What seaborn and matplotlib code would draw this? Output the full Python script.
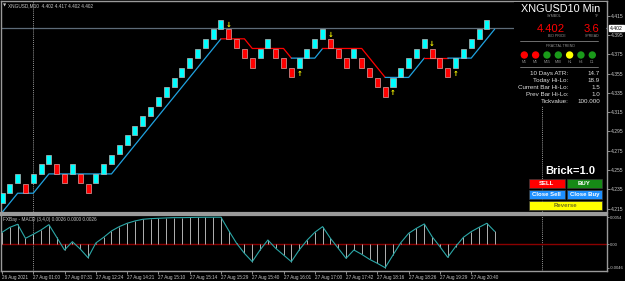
import numpy as np
import pandas as pd
import seaborn as sns
import matplotlib.pyplot as plt
from matplotlib.patches import Rectangle, Circle

# ---- data ----
# renko bricks: low price of each brick and its direction (u = up/cyan, d = down/red)
brick_low = [4.221, 4.231, 4.241, 4.231, 4.241, 4.251, 4.261, 4.251, 4.241, 4.251,
             4.241, 4.231, 4.241, 4.251, 4.261, 4.271, 4.281, 4.291, 4.301, 4.311,
             4.321, 4.331, 4.341, 4.351, 4.361, 4.371, 4.381, 4.391, 4.401, 4.391,
             4.381, 4.371, 4.361, 4.371, 4.381, 4.371, 4.361, 4.351, 4.361, 4.371,
             4.381, 4.391, 4.381, 4.371, 4.361, 4.371, 4.361, 4.351, 4.341, 4.331,
             4.341, 4.351, 4.361, 4.371, 4.381, 4.371, 4.361, 4.351, 4.361, 4.371,
             4.381, 4.391, 4.401]
brick_dir = list("uuuduuuddudd" "uuuuuuuuuuuuuuuuu" "dddd" "uu" "ddd" "uuuu"
                 "ddd" "u" "dddd" "uuuuu" "ddd" "uuuuu")
brick_size = 0.01

# trailing line (one point per bar, incl. the forming bar) and its trend per segment
trail = [4.211, 4.221, 4.231, 4.231, 4.231, 4.241, 4.251, 4.251, 4.251, 4.251,
         4.251, 4.251, 4.251, 4.251, 4.251, 4.261, 4.271, 4.281, 4.291, 4.301,
         4.311, 4.321, 4.331, 4.341, 4.351, 4.361, 4.371, 4.381, 4.391, 4.391,
         4.391, 4.391, 4.381, 4.381, 4.381, 4.381, 4.381, 4.371, 4.371, 4.371,
         4.371, 4.381, 4.381, 4.381, 4.381, 4.381, 4.381, 4.371, 4.361, 4.351,
         4.351, 4.351, 4.351, 4.361, 4.371, 4.371, 4.371, 4.371, 4.371, 4.371,
         4.371, 4.381, 4.391, 4.401]
trail_dir = list("uuuuuuuuuuuuuuuuuuuuuuuuuuuu" "ddddddddd" "uuuu" "dddddddd"
                 "uuuuu" "ddd" "uuuuuuu")

# fractal arrows (bar numbers)
fractal_down = [30, 43, 56]
fractal_up = [39, 51, 59]

# MACD (3,4,0) histogram values
macd = [0.00241, 0.00340, 0.00400, 0.00122, 0.00202, 0.00288, 0.00393, 0.00142, -0.00109, 0.00056,
        -0.00089, -0.00261, 0.00030, 0.00142, 0.00268, 0.00354, 0.00420, 0.00466, 0.00499, 0.00512,
        0.00519, 0.00526, 0.00532, 0.00532, 0.00535, 0.00538, 0.00540, 0.00540, 0.00540, 0.00274,
        0.00023, -0.00175, -0.00340, -0.00109, 0.00089, -0.00076, -0.00208, -0.00340, -0.00109, 0.00083,
        0.00241, 0.00354, 0.00122, -0.00076, -0.00274, -0.00109, -0.00195, -0.00294, -0.00373, -0.00460,
        -0.00208, 0.00036, 0.00221, 0.00321, 0.00407, 0.00155, -0.00043, -0.00254, -0.00043, 0.00142,
        0.00254, 0.00340, 0.00420, 0.00260]

price_ticks = [4.215, 4.235, 4.255, 4.275, 4.295, 4.315, 4.335, 4.355, 4.375, 4.395, 4.415]
bid = 4.402
time_ticks = [1, 5, 9, 13, 17, 21, 25, 29, 33, 37, 41, 45, 49, 53, 57, 61]
time_labels = ["26 Aug 2021", "27 Aug 01:00", "27 Aug 07:31", "27 Aug 12:24",
               "27 Aug 14:21", "27 Aug 15:10", "27 Aug 15:14", "27 Aug 15:29",
               "27 Aug 15:40", "27 Aug 16:01", "27 Aug 17:00", "27 Aug 17:42",
               "27 Aug 18:16", "27 Aug 18:26", "27 Aug 19:29", "27 Aug 20:40"]
day_separators = [5, 70]

tf_names = ["M1", "M5", "M15", "M30", "H1", "H4", "D1"]
tf_colors = ["#ff0000", "#ff0000", "#1a9a1a", "#1a9a1a", "#ffff00", "#1a9a1a", "#1a9a1a"]
stat_names = ["10 Days ATR:", "Today Hi-Lo:", "Current Bar Hi-Lo:", "Prev Bar Hi-Lo:", "Tickvalue:"]
stat_values = ["14.7", "18.9", "1.5", "1.0", "100.000"]

# ---- style ----
sns.set_style("dark", {"axes.facecolor": "black", "figure.facecolor": "black"})
plt.rcParams["font.family"] = ["Liberation Sans", "DejaVu Sans"]

W, H = 625, 281
fig = plt.figure(figsize=(W / 100, H / 100), dpi=100, facecolor="black")
tr = fig.dpi_scale_trans


def px(x, y):
    return x / 100, (H - y) / 100


x0, step = 2.0, 7.82
xmin = 1 - (x0 - 1) / step
xmax = 1 + (607 - x0) / step

ax = fig.add_axes([1 / W, 1 - 213 / H, 606 / W, 212 / H])
ax2 = fig.add_axes([1 / W, 1 - 270.5 / H, 606 / W, 55.5 / H])
txt = "#c8c8c8"
for a in (ax, ax2):
    a.set_facecolor("black")
    a.set_xlim(xmin, xmax)
    a.grid(False)
    for s in a.spines.values():
        s.set_color("#9a9a9a")
        s.set_linewidth(1.0)
ax.spines["bottom"].set_linewidth(1.6)
ax2.spines["top"].set_linewidth(1.6)

# ---- main renko panel ----
n = len(brick_low)
bars = np.arange(1, n + 1)
up_col, dn_col = "#00ffff", "#ff0000"
cols = [up_col if d == "u" else dn_col for d in brick_dir]
edges = ["#b8b8b8" if d == "u" else "#e0a0a0" for d in brick_dir]
ax.bar(bars, brick_size * 0.97, bottom=np.array(brick_low) + 0.00015, width=0.64,
       color=cols, edgecolor=edges, linewidth=0.5, zorder=3)

ax.axhline(bid, color="#5d6b78", lw=0.9, zorder=1)
for d in day_separators:
    for a in (ax, ax2):
        a.axvline(d, color="#c0c0c0", lw=0.6, ls=(0, (1, 1.3)), zorder=1)

# trailing line drawn as runs of same trend
tpos = np.arange(1, len(trail) + 1)
start = 0
for i in range(1, len(trail)):
    if i == len(trail) - 1 or trail_dir[i] != trail_dir[start]:
        end = i
        seg = pd.DataFrame({"x": tpos[start:end + 1], "y": trail[start:end + 1]})
        sns.lineplot(data=seg, x="x", y="y", ax=ax, lw=0.9, zorder=2,
                     color="#1fa2e0" if trail_dir[start] == "u" else "#ff0000")
        start = i

for b in fractal_down:
    ax.text(b, brick_low[b - 1] + brick_size + 0.0045, "↓", color="#ffff00",
            fontsize=5, ha="center", va="center", fontweight="bold", family="DejaVu Sans", zorder=4)
for b in fractal_up:
    ax.text(b, brick_low[b - 1] - 0.0065, "↑", color="#ffff00",
            fontsize=5, ha="center", va="center", fontweight="bold", family="DejaVu Sans", zorder=4)

ax.set_ylim(4.2105, 4.4302)
ax.yaxis.tick_right()
ax.set_yticks(price_ticks)
ax.set_yticklabels([f"{p:.3f}" for p in price_ticks])
ax.tick_params(axis="y", colors=txt, labelsize=3.6, length=2, pad=1, width=0.5)
ax.tick_params(axis="x", bottom=False, labelbottom=False)
ax.set_xlabel("")
ax.set_ylabel("")
ax.text(1 + 3 / 606, bid, f"{bid:.3f}", transform=ax.get_yaxis_transform(),
        fontsize=3.6, color="black", va="center", ha="left",
        bbox=dict(boxstyle="square,pad=0.15", fc="white", ec="white"))

# ---- MACD panel ----
mpos = np.arange(1, len(macd) + 1)
ax2.axhline(0, color="#8b0000", lw=1.0, zorder=1)
ax2.vlines(mpos, 0, macd, colors="#d0d0d0", lw=0.6, zorder=2)
sns.lineplot(x=mpos, y=macd, ax=ax2, color="#2ba7a7", lw=0.8, zorder=3)
ax2.set_ylim(-0.00515, 0.00584)
ax2.yaxis.tick_right()
ax2.set_yticks([0.0054, 0.0, -0.0046])
ax2.set_yticklabels(["0.0054", "0.00", "-0.0046"])
ax2.tick_params(axis="y", colors=txt, labelsize=3.0, length=1.5, pad=0.6, width=0.5)
ax2.set_xticks(time_ticks)
ax2.set_xticklabels(time_labels)
ax2.tick_params(axis="x", colors=txt, labelsize=3.3, length=2, pad=1, width=0.5, bottom=True)
for lab in ax2.get_xticklabels():
    lab.set_ha("left")
ax2.set_xlabel("")
ax2.set_ylabel("")

# ---- header texts ----
fig.text(*px(3, 5.5), "▼", transform=tr, color=txt, fontsize=3, va="center", family="DejaVu Sans")
fig.text(*px(8, 5.5), "XNGUSD,M10  4.402 4.417 4.402 4.402", transform=tr, color=txt,
         fontsize=3.4, va="center")
fig.text(*px(3, 219.5), "FXBay - MACD (3,4,0) 0.0026 0.0000 0.0026", transform=tr, color=txt,
         fontsize=3.4, va="center")

# ---- info panel ----
fig.patches.append(Rectangle(px(514, 106), 92 / 100, 104 / 100, transform=tr,
                             fc="black", ec="none", zorder=4))
fig.text(*px(560.5, 11.7), "XNGUSD10 Min", transform=tr, color="white", fontsize=7.8,
         ha="center", va="baseline", zorder=5)
fig.text(*px(554, 15.7), "SYMBOL", transform=tr, color="#909090", fontsize=2.6, ha="center", va="center", zorder=5)
fig.text(*px(597.5, 15.7), "TF", transform=tr, color="#909090", fontsize=2.6, ha="center", va="center", zorder=5)
fig.text(*px(551, 31.7), "4.402", transform=tr, color="#ff0000", fontsize=8.1, ha="center", va="baseline", zorder=5)
fig.text(*px(591, 31.7), "3.6", transform=tr, color="#ff0000", fontsize=8.1, ha="center", va="baseline", zorder=5)
fig.text(*px(557, 36), "BID PRICE", transform=tr, color="#909090", fontsize=2.6, ha="center", va="center", zorder=5)
fig.text(*px(592, 36), "SPREAD", transform=tr, color="#909090", fontsize=2.6, ha="center", va="center", zorder=5)
fig.lines.append(plt.Line2D([520 / 100, 598 / 100], [(H - 41.3) / 100] * 2, transform=tr,
                            color="#808080", lw=0.6, zorder=5))
fig.text(*px(560, 45.7), "FRACTAL TREND", transform=tr, color="#909090", fontsize=2.6,
         ha="center", va="center", zorder=5)
for k, (name, c) in enumerate(zip(tf_names, tf_colors)):
    cx = 524.3 + k * 11.33
    fig.patches.append(Circle(px(cx, 55), 3.7 / 100, transform=tr, fc=c, ec="none", zorder=5))
    fig.text(*px(cx, 62.3), name, transform=tr, color="#909090", fontsize=2.6,
             ha="center", va="center", zorder=5)
fig.lines.append(plt.Line2D([520 / 100, 598 / 100], [(H - 66.7) / 100] * 2, transform=tr,
                            color="#808080", lw=0.6, zorder=5))
for k, (name, val) in enumerate(zip(stat_names, stat_values)):
    yy = 73.3 + k * 7.1
    fig.text(*px(568.3, yy), name, transform=tr, color="#e0e0e0", fontsize=4.5,
             ha="right", va="center", zorder=5)
    fig.text(*px(600, yy), val, transform=tr, color="#e0e0e0", fontsize=4.5,
             ha="right", va="center", zorder=5)

fig.text(*px(570, 171), "Brick=1.0", transform=tr, color="white", fontsize=8,
         fontweight="bold", ha="center", va="center", zorder=5)
buttons = [("SELL", 529, 179, 35.5, "#ff0000", "white"),
           ("BUY", 566.5, 179, 35.5, "#168a16", "white"),
           ("Close Sell", 529, 190, 35.5, "#1e90ff", "white"),
           ("Close Buy", 566.5, 190, 35.5, "#1e90ff", "white"),
           ("Reverse", 529, 201, 73, "#ffff00", "#6e6e1e")]
for label, bx, by, bw, fc, tc in buttons:
    fig.patches.append(Rectangle(px(bx, by + 9), bw / 100, 9 / 100, transform=tr,
                                 fc=fc, ec="#3a3a3a", lw=0.5, zorder=5))
    fig.text(*px(bx + bw / 2, by + 4.6), label, transform=tr, color=tc, fontsize=4.3,
             fontweight="bold", ha="center", va="center", zorder=6)

fig.savefig("out.png", dpi=100, facecolor="black")
